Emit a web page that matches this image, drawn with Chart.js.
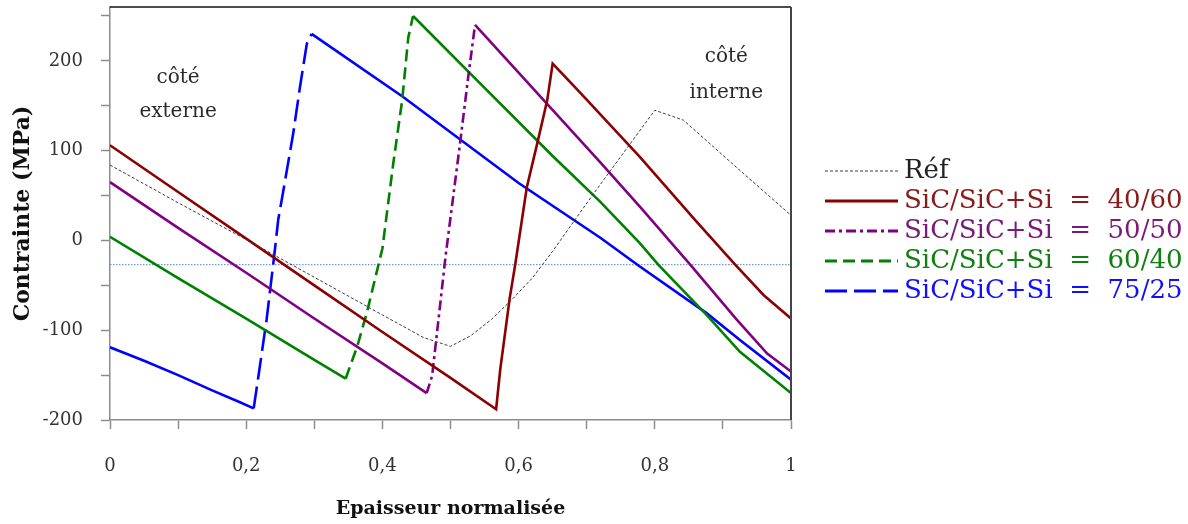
<!DOCTYPE html>
<html>
<head>
<meta charset="utf-8">
<title>Contrainte</title>
<script src="https://cdn.jsdelivr.net/npm/chart.js@4.4.1/dist/chart.umd.min.js"></script>
<style>
  html, body { margin: 0; padding: 0; background: #fff; }
</style>
</head>
<body>
<canvas id="stressChart" width="1188" height="524"></canvas>
<script>
	// données (épaisseur normalisée / contrainte MPa)
	const refX = [0, 0.1, 0.2, 0.3, 0.4, 0.46, 0.5, 0.53, 0.56, 0.59, 0.62, 0.65, 0.68, 0.71, 0.74, 0.77, 0.8, 0.842, 0.925, 1];
	const refY = [84, 42, 1, -41, -83, -108, -118, -106, -88, -66, -42, -12, 20, 52, 83, 114, 145, 134, 78, 28];

	const r4060X = [0, 0.1, 0.2, 0.3, 0.4, 0.5, 0.567, 0.573, 0.587, 0.595, 0.612, 0.628, 0.642, 0.65, 0.69, 0.778, 0.859, 0.918, 0.96, 1];
	const r4060Y = [106, 54, 2, -50, -102, -153, -188, -144, -64, -27, 59, 110, 156, 197, 165, 93, 23, -27, -61, -87];

	const r5050X = [0, 0.1, 0.2, 0.3, 0.4, 0.465, 0.473, 0.48, 0.493, 0.514, 0.526, 0.536, 0.6, 0.72, 0.78, 0.852, 0.92, 0.965, 1];
	const r5050Y = [65, 14, -36, -87, -137, -170, -151, -104, -16, 108, 182, 240, 187, 87, 36, -27, -88, -126, -146];

	const r6040X = [0, 0.1, 0.2, 0.3, 0.346, 0.363, 0.377, 0.4, 0.416, 0.429, 0.438, 0.445, 0.55, 0.65, 0.72, 0.778, 0.805, 0.876, 0.925, 1];
	const r6040Y = [4, -42, -87, -133, -154, -118, -81, -9, 86, 156, 226, 250, 170, 94, 43, -3, -27, -83, -124, -170];

	const r7525X = [0, 0.05, 0.1, 0.15, 0.19, 0.211, 0.218, 0.23, 0.241, 0.247, 0.254, 0.269, 0.279, 0.289, 0.296, 0.43, 0.6, 0.72, 0.778, 0.876, 0.925, 1];
	const r7525Y = [-119, -134, -150, -167, -180, -187, -151, -88, -18, 23, 53, 119, 171, 219, 230, 160, 64, 3, -29, -81, -111, -155];

	const levelX = [0, 1];
	const levelY = [-27, -27];

	const seriesLabels = ['Réf', 'SiC/SiC+Si  =  40/60', 'SiC/SiC+Si  =  50/50', 'SiC/SiC+Si  =  60/40', 'SiC/SiC+Si  =  75/25'];
	const seriesColors = ['#3a3a3a', '#8b0000', '#800080', '#008000', '#0000ff'];
	const textColors = ['#222222', '#8b1a1a', '#7a1a7a', '#108010', '#1010ff'];

	const notes = [
		{ text: 'côté', x: 0.1, y: 181 },
		{ text: 'externe', x: 0.1, y: 143 },
		{ text: 'côté', x: 0.905, y: 204 },
		{ text: 'interne', x: 0.905, y: 164 }
	];

	const dashes = [[3, 2], [], [10, 4, 3, 4], [12, 6], [22, 7]];

	function pts(xs, ys) {
		return xs.map((x, i) => ({ x: x, y: ys[i] }));
	}
	// tirets seulement sur la partie montante (comme sur l'original)
	function risingDash(d) {
		return ctx => (ctx.p1.parsed.y > ctx.p0.parsed.y ? d : []);
	}

	const serif = 'DejaVu Serif';

	const decor = {
		id: 'decor',
		afterDraw(chart) {
			const c = chart.ctx, a = chart.chartArea;
			const xs = chart.scales.x, ys = chart.scales.y;
			c.save();
			// cadre haut et droite
			c.strokeStyle = '#111';
			c.lineWidth = 1.5;
			c.beginPath();
			c.moveTo(a.left, a.top);
			c.lineTo(a.right, a.top);
			c.stroke();
			c.strokeStyle = '#444';
			c.lineWidth = 2;
			c.beginPath();
			c.moveTo(a.right, a.top);
			c.lineTo(a.right, a.bottom);
			c.stroke();
			// textes côté externe / interne
			c.fillStyle = '#2a2a2a';
			c.font = '20px "' + serif + '"';
			c.textAlign = 'center';
			c.textBaseline = 'middle';
			notes.forEach(n => c.fillText(n.text, xs.getPixelForValue(n.x), ys.getPixelForValue(n.y)));
			// légende
			c.textAlign = 'left';
			c.font = '26px "' + serif + '"';
			for (let i = 0; i < seriesLabels.length; i++) {
				const yy = 171 + i * 30;
				c.strokeStyle = seriesColors[i];
				c.lineWidth = i === 0 ? 1 : 3;
				c.setLineDash(dashes[i]);
				c.beginPath();
				c.moveTo(825, yy);
				c.lineTo(898, yy);
				c.stroke();
				c.setLineDash([]);
				c.fillStyle = textColors[i];
				c.fillText(seriesLabels[i], 904, yy);
			}
			c.restore();
		}
	};

	function lineSet(i, xs, ys) {
		return {
			label: seriesLabels[i],
			data: pts(xs, ys),
			borderColor: seriesColors[i],
			borderWidth: i === 0 ? 1 : 2.6,
			pointRadius: 0,
			tension: 0,
			fill: false,
			segment: i === 0 || i === 1 ? {} : { borderDash: risingDash(dashes[i]) },
			borderDash: i === 0 ? dashes[0] : []
		};
	}

	const ctx = document.getElementById('stressChart').getContext('2d');
	const chart = new Chart(ctx, {
		type: 'line',
		data: {
			datasets: [
				lineSet(0, refX, refY),
				lineSet(1, r4060X, r4060Y),
				lineSet(2, r5050X, r5050Y),
				lineSet(3, r6040X, r6040Y),
				lineSet(4, r7525X, r7525Y),
				{
					label: '',
					data: pts(levelX, levelY),
					borderColor: '#6f9ad6',
					borderWidth: 1.2,
					borderDash: [1.5, 1.5],
					pointRadius: 0
				}
			]
		},
		options: {
			responsive: false,
			animation: false,
			layout: { padding: { top: 7, right: 397, bottom: 0, left: 0 } },
			plugins: {
				legend: { display: false },
				tooltip: { enabled: false }
			},
			scales: {
				x: {
					type: 'linear',
					min: 0,
					max: 1,
					afterFit: s => { s.height = 104; s.paddingLeft = 0; s.paddingRight = 0; },
					border: { color: '#8c8c8c', width: 1.5 },
					grid: { drawOnChartArea: false, tickLength: 9, tickColor: '#8c8c8c', tickWidth: 1.5 },
					ticks: {
						stepSize: 0.1,
						autoSkip: false,
						maxRotation: 0,
						padding: 27,
						color: '#333',
						font: { family: serif, size: 18 },
						callback: v => {
							const k = Math.round(v * 10);
							if (k % 2 !== 0) return '';
							return k === 0 ? '0' : k === 10 ? '1' : (k / 10).toFixed(1).replace('.', ',');
						}
					},
					title: {
						display: true,
						text: 'Epaisseur normalisée',
						color: '#111',
						font: { family: serif, size: 19, weight: 'bold' },
						padding: { top: 20, bottom: 4 }
					}
				},
				y: {
					min: -200,
					max: 260,
					afterFit: s => { s.width = 110; s.paddingTop = 0; s.paddingBottom = 0; },
					border: { color: '#8c8c8c', width: 1.5 },
					grid: { drawOnChartArea: false, tickLength: 9, tickColor: '#8c8c8c', tickWidth: 1.5 },
					ticks: {
						stepSize: 50,
						includeBounds: false,
						autoSkip: false,
						padding: 18,
						color: '#333',
						font: { family: serif, size: 18 },
						callback: v => (v % 100 === 0 ? String(v) : '')
					},
					title: {
						display: true,
						text: 'Contrainte (MPa)',
						color: '#111',
						font: { family: serif, size: 22, weight: 'bold' },
						padding: { top: 10, bottom: 6 }
					}
				}
			}
		},
		plugins: [decor]
	});
</script>
</body>
</html>
